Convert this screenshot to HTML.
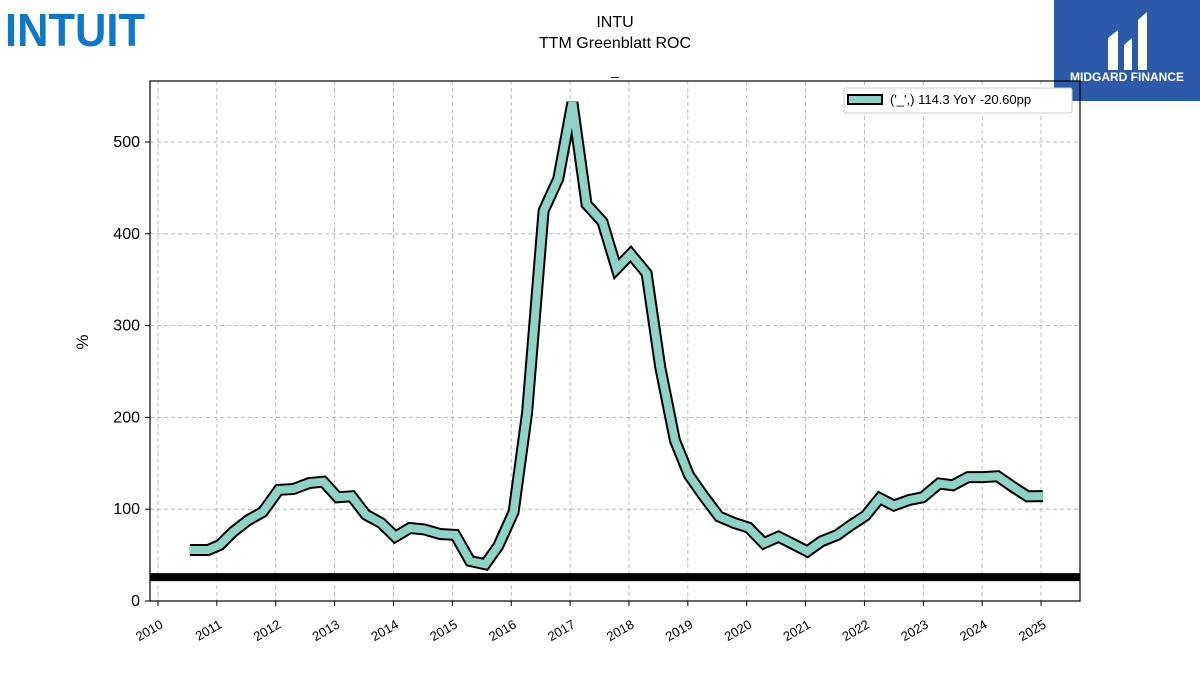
<!DOCTYPE html>
<html><head><meta charset="utf-8"><style>
body{margin:0;background:#fff;width:1200px;height:675px;overflow:hidden;font-family:"Liberation Sans",sans-serif}
</style></head><body>
<svg id="chart" width="1200" height="675" xmlns="http://www.w3.org/2000/svg" font-family="Liberation Sans, sans-serif">
<text x="5" y="46" font-size="46" font-weight="bold" fill="#1076c6" textLength="140" lengthAdjust="spacingAndGlyphs">INTUIT</text>
<g>
<rect x="1054" y="0" width="146" height="101" fill="#2c5aa9"/>
<path d="M1108 70 L1108 38 L1118 30 L1118 70 Z M1124 45 L1132 38 L1132 70 L1124 70 Z M1138 20 L1147 12 L1147 70 L1138 70 Z" fill="#fff"/>
<text x="1127" y="81" font-size="12" font-weight="bold" fill="#fff" text-anchor="middle">MIDGARD FINANCE</text>
</g>
<text x="615" y="27" font-size="16" text-anchor="middle">INTU</text>
<text x="615" y="48" font-size="16" text-anchor="middle">TTM Greenblatt ROC</text>
<text x="615" y="75" font-size="14" text-anchor="middle">_</text>
<text x="88" y="342" font-size="17" text-anchor="middle" transform="rotate(-90 88 342)">%</text>
<g id="grid"></g><g id="axes"></g><g id="series"></g>
<rect x="150" y="81" width="930" height="520" fill="none" stroke="#000" stroke-width="1.2"/>
<g>
<rect x="844" y="88" width="228" height="25" fill="#fff" stroke="#ccc" rx="2"/>
<rect x="848" y="95" width="34" height="9" fill="#8ed3c6" stroke="#000" stroke-width="2"/>
<text x="890" y="104" font-size="13">('_',) 114.3 YoY -20.60pp</text>
</g>
</svg>
<script>
const dates=[2010.54,2010.85,2011.05,2011.27,2011.53,2011.78,2012.05,2012.3,2012.57,2012.81,2013.05,2013.29,2013.53,2013.79,2014.03,2014.28,2014.52,2014.79,2015.05,2015.3,2015.56,2015.78,2016.04,2016.27,2016.55,2016.8,2017.04,2017.28,2017.55,2017.79,2018.03,2018.3,2018.53,2018.78,2019.02,2019.26,2019.53,2019.79,2020.03,2020.29,2020.54,2020.79,2021.03,2021.27,2021.54,2021.78,2022.02,2022.26,2022.5,2022.76,2022.99,2023.27,2023.5,2023.76,2024.02,2024.26,2024.53,2024.77,2025.03];
const values=[55.6,55.6,61,75,88,97,121,122,128.5,130,113,114,94,85,70,79.5,78,73,72,43.6,40,60,97,205,425,460,543,432,413,362,378,357,255,175,137,115,92,85,80,63,70,62,54,65,72,83,93,112,104,110,113,128,126,135,135,136,124,114,114.3];
const yTicks=[0,100,200,300,400,500];
const xTicks=[2010,2011,2012,2013,2014,2015,2016,2017,2018,2019,2020,2021,2022,2023,2024,2025];
const refLevel=[26];
const NS="http://www.w3.org/2000/svg";
const X=v=>158+(v-2010)*58.87;
const Y=v=>601-v*0.918;
function mk(t,a,p){const e=document.createElementNS(NS,t);for(const k in a)e.setAttribute(k,a[k]);p.appendChild(e);return e;}
const grid=document.getElementById('grid'),axes=document.getElementById('axes'),ser=document.getElementById('series');
yTicks.forEach(v=>{
 const l=mk('line',{x1:150,x2:1080,y1:Y(v),y2:Y(v),stroke:'#aaa','stroke-dasharray':'4,3','stroke-width':0.8},grid);
 
 
 mk('line',{x1:145,x2:150,y1:Y(v),y2:Y(v),stroke:'#000'},axes);
 const t=mk('text',{x:140,y:Y(v)+5,'font-size':16,'text-anchor':'end'},axes);t.textContent=v;
 
 
});
xTicks.forEach(v=>{
 const l=mk('line',{x1:X(v),x2:X(v),y1:81,y2:601,stroke:'#aaa','stroke-dasharray':'4,3','stroke-width':0.8},grid);
 
 
 mk('line',{x1:X(v),x2:X(v),y1:601,y2:606,stroke:'#000'},axes);
 const t=mk('text',{x:X(v)+6,y:627,'font-size':13,'text-anchor':'end',transform:`rotate(-30 ${X(v)+6} 627)`},axes);t.textContent=v;
 
 
});
const ref=mk('line',{x1:150,x2:1080,y1:Y(refLevel[0]),y2:Y(refLevel[0]),stroke:'#000','stroke-width':8},ser);


const pts=dates.map((d,i)=>X(d).toFixed(1)+','+Y(values[i]).toFixed(1)).join(' ');
const o=mk('polyline',{points:pts,fill:'none',stroke:'#000','stroke-width':12},ser);


const ln=mk('polyline',{points:pts,fill:'none',stroke:'#8ed3c6','stroke-width':8},ser);


</script>
</body></html>
